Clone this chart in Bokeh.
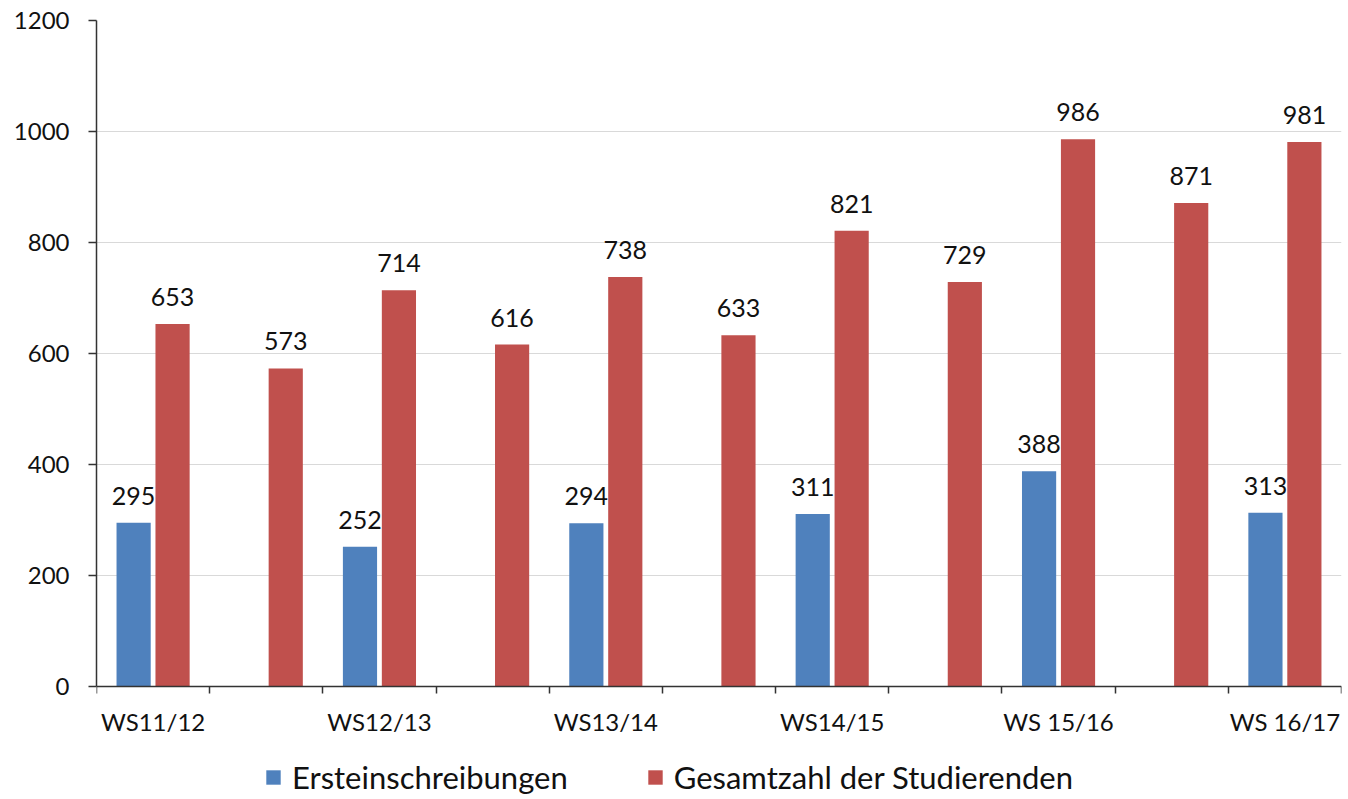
from bokeh.plotting import figure
from bokeh.models import (ColumnDataSource, FixedTicker, Legend, LegendItem, Range1d)
from bokeh.core.properties import value
from bokeh.transform import dodge
from bokeh.embed import file_html
from bokeh.resources import INLINE

# ---- data ----
slot_labels = ["WS11/12", "", "WS12/13", "", "WS13/14", "", "WS14/15", "", "WS 15/16", "", "WS 16/17"]
ersteinschreibungen = [295, None, 252, None, 294, None, 311, None, 388, None, 313]
gesamtzahl = [653, 573, 714, 616, 738, 633, 821, 729, 986, 871, 981]
y_ticks = [0, 200, 400, 600, 800, 1000, 1200]
series_names = ["Ersteinschreibungen", "Gesamtzahl der Studierenden"]

BLUE = "#4F81BD"
RED = "#C0504D"
FONT = "Lato"
TXT = "#111111"
AX = "#333333"

n = len(slot_labels)
slots = list(range(n))

blue_x = [i for i in slots if ersteinschreibungen[i] is not None]
blue_y = [ersteinschreibungen[i] for i in blue_x]
src_blue = ColumnDataSource(dict(x=blue_x, y=blue_y, lbl=[str(v) for v in blue_y]))
src_red = ColumnDataSource(dict(x=slots, y=gesamtzahl, lbl=[str(v) for v in gesamtzahl]))

# frame extends below the value axis so that the legend can sit inside it
p = figure(frame_width=1245, frame_height=777, output_backend="svg", toolbar_location=None,
           x_range=Range1d(-0.5, n - 0.5), y_range=Range1d(-200, 1200),
           min_border_left=96, min_border_top=20, min_border_right=3, min_border_bottom=0)
p.outline_line_color = None
p.background_fill_color = "white"
p.border_fill_color = "white"

off = 0.172
w = 0.302
rb = p.vbar(x=dodge("x", -off), top="y", width=w, source=src_blue, fill_color=BLUE, line_color=None)
rr = p.vbar(x=dodge("x", off), top="y", width=w, source=src_red, fill_color=RED, line_color=None)

for src, o in ((src_blue, -off), (src_red, off)):
    p.text(x=dodge("x", o), y="y", text="lbl", source=src, text_align="center",
           text_baseline="alphabetic", y_offset=-27, text_font=value(FONT),
           text_font_size="25px", text_color=TXT)

# x axis at value 0: labels at labelled slots, tick marks at slot boundaries
xa = p.xaxis[0]
xa.fixed_location = 0
xa.ticker = FixedTicker(ticks=[i for i in slots if slot_labels[i]],
                        minor_ticks=[i - 0.5 for i in range(n + 1)])
xa.major_label_overrides = {i: slot_labels[i] for i in slots if slot_labels[i]}
xa.major_tick_out = 0
xa.major_tick_in = 0
xa.minor_tick_out = 7
xa.minor_tick_in = 0
xa.minor_tick_line_color = AX
xa.minor_tick_line_width = 1.5
xa.axis_line_color = AX
xa.axis_line_width = 1.5
xa.major_label_text_font = FONT
xa.major_label_text_font_size = "24px"
xa.major_label_text_color = TXT
xa.major_label_standoff = 13

ya = p.yaxis[0]
ya.ticker = FixedTicker(ticks=y_ticks, minor_ticks=[])
ya.bounds = (0, 1200)
ya.major_tick_out = 8
ya.major_tick_in = 0
ya.major_tick_line_color = AX
ya.major_tick_line_width = 1.5
ya.axis_line_color = AX
ya.axis_line_width = 1.5
ya.major_label_text_font = FONT
ya.major_label_text_font_size = "24px"
ya.major_label_text_color = TXT
ya.major_label_standoff = 19

p.xgrid.grid_line_color = None
p.ygrid.ticker = FixedTicker(ticks=y_ticks)
p.ygrid.grid_line_color = "#D9D9D9"
p.ygrid.grid_line_width = 1.2

legend = Legend(items=[LegendItem(label=series_names[0], renderers=[rb]),
                       LegendItem(label=series_names[1], renderers=[rr])],
                orientation="horizontal", location=(168, 1),
                glyph_width=18, glyph_height=18, label_standoff=10, spacing=78,
                padding=0, margin=0, border_line_color=None, background_fill_alpha=0,
                label_text_font=FONT, label_text_font_size="31px", label_text_color=TXT)
p.add_layout(legend, "center")

open("out.html", "w").write(file_html(p, INLINE))
